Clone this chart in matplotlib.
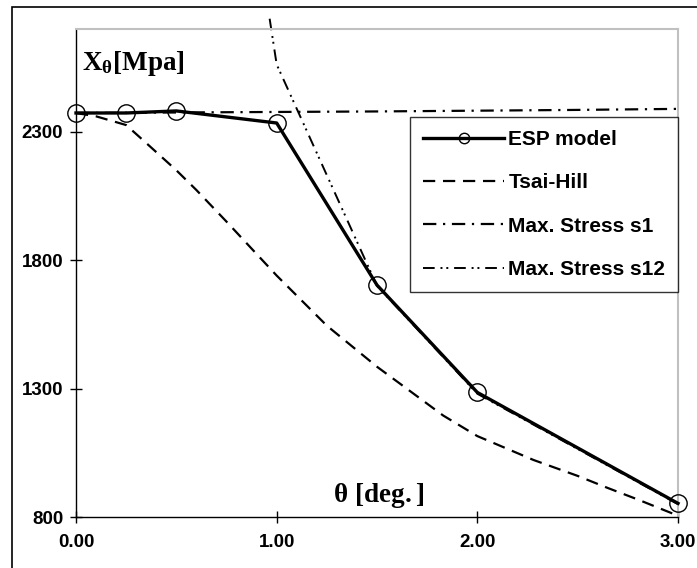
import matplotlib
matplotlib.use("Agg")
import matplotlib.pyplot as plt
from matplotlib.patches import Rectangle

plt.rcParams['font.family'] = ['Liberation Sans', 'DejaVu Sans']
plt.rcParams['mathtext.fontset'] = 'custom'
plt.rcParams['mathtext.rm'] = 'Liberation Serif:bold'
plt.rcParams['mathtext.bf'] = 'Liberation Serif:bold'
plt.rcParams['mathtext.it'] = 'Liberation Serif:bold'

# ---- data ----
esp_theta = [0.0, 0.25, 0.5, 1.0, 1.5, 2.0, 3.0]
esp_x = [2373, 2373, 2381, 2334, 1703, 1285, 853]

tsai_theta = [0.0, 0.1, 0.25, 0.35, 0.5, 0.6, 0.75, 1.0, 1.25, 1.5, 1.62, 1.83, 2.0, 2.28, 2.5, 2.65, 2.8, 3.0]
tsai_x = [2373, 2360, 2326, 2256, 2150, 2073, 1950, 1740, 1545, 1385, 1316, 1195, 1115, 1022, 960, 913, 868, 805]

s1_theta = [0.0, 0.5, 1.0, 1.5, 2.0, 2.5, 3.0]
s1_x = [2373, 2375, 2377, 2379, 2382, 2385, 2389]

s12_theta = [0.965, 1.0, 1.5, 2.0, 3.0]
s12_x = [2740, 2562, 1700, 1280, 850]

xticks = [0, 1, 2, 3]
xtick_labels = ["0.00", "1.00", "2.00", "3.00"]
yticks = [800, 1300, 1800, 2300]

W, H = 697, 568
fig = plt.figure(figsize=(W / 100, H / 100), dpi=100)
ax = fig.add_axes([76 / W, 1 - 517 / H, (678 - 76) / W, (517 - 29) / H])

ax.plot(tsai_theta, tsai_x, color='black', lw=1.6, linestyle=(0, (5.5, 3.5)), label='Tsai-Hill', zorder=2)
ax.plot(s1_theta, s1_x, color='black', lw=1.6, linestyle=(0, (6, 3, 1, 3)), label='Max. Stress s1', zorder=2)
ax.plot(s12_theta, s12_x, color='black', lw=1.4, linestyle=(0, (6, 3, 1, 2, 1, 3)), label='Max. Stress s12',
        clip_on=False, zorder=2)
ax.plot(esp_theta, esp_x, color='black', lw=2.4, marker='o', markersize=12.5, markerfacecolor='none',
        markeredgecolor='black', markeredgewidth=1.0, label='ESP model', zorder=3, clip_on=False)

ax.set_xlim(0, 3)
ax.set_ylim(800, 2700)
ax.set_xticks(xticks)
ax.set_xticklabels(xtick_labels)
ax.set_yticks(yticks)

for s in ['top', 'right']:
    ax.spines[s].set_color('#c0c0c0')
    ax.spines[s].set_linewidth(1.5)
for s in ['left', 'bottom']:
    ax.spines[s].set_color('black')
    ax.spines[s].set_linewidth(1.0)

ax.tick_params(axis='both', direction='inout', length=8.5, width=1.0, labelsize=13.5)
ax.tick_params(axis='x', pad=8)
ax.tick_params(axis='y', pad=5)
for lab in ax.get_xticklabels() + ax.get_yticklabels():
    lab.set_fontweight('bold')

ax.text(82 / W, 1 - 63 / H, r'$\mathbf{X_{\theta}[Mpa]}$', transform=fig.transFigure,
        fontsize=19.5, ha='left', va='center')
ax.text(379 / W, 1 - 495 / H, r'$\mathbf{\theta\ [deg.]}$', transform=fig.transFigure,
        fontsize=19.5, ha='center', va='center')

handles, labels = ax.get_legend_handles_labels()
order = [3, 0, 1, 2]
leg = ax.legend([handles[i] for i in order], [labels[i] for i in order],
                loc='upper left', bbox_to_anchor=((410 - 76) / (678 - 76), (517 - 117) / (517 - 29)),
                frameon=True, fancybox=False, edgecolor='black', handlelength=3.9,
                prop={'weight': 'bold', 'size': 15}, labelspacing=1.17, borderpad=0.62,
                handletextpad=0.2, markerscale=0.6, borderaxespad=0)
leg.get_frame().set_linewidth(1.0)

fig.patches.append(Rectangle((12 / W, -0.1), 1.2, 1 - 7 / H + 0.1, transform=fig.transFigure,
                             fill=False, edgecolor='black', linewidth=1.2))

fig.savefig('out.png', dpi=100)
